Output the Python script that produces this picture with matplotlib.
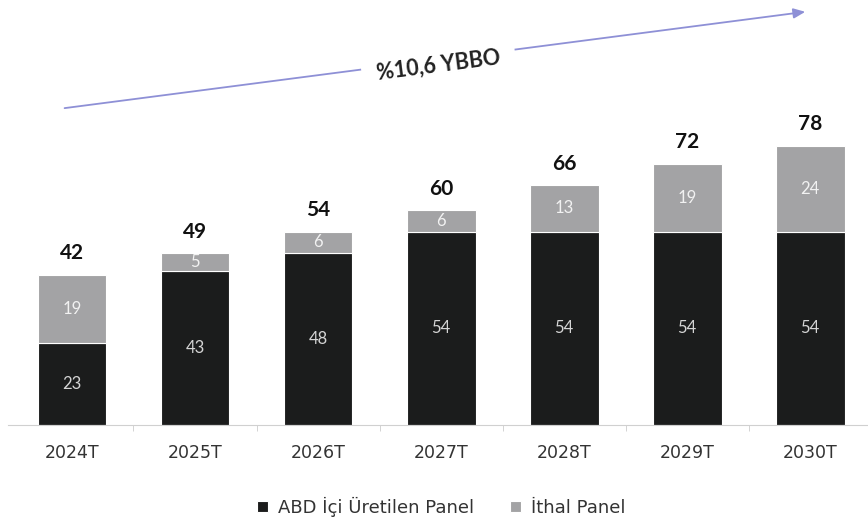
import matplotlib.pyplot as plt
import numpy as np

# Panel supply by source, forecast years
years = ['2024T', '2025T', '2026T', '2027T', '2028T', '2029T', '2030T']
domestic = [23, 43, 48, 54, 54, 54, 54]
imported = [19, 5, 6, 6, 13, 19, 24]
totals = [42, 49, 54, 60, 66, 72, 78]
cagr_text = '%10,6 YBBO'

dark = '#1b1c1c'
grey = '#a3a3a5'

plt.rcParams['font.family'] = ['Lato', 'DejaVu Sans']

fig = plt.figure(figsize=(8.68, 5.27), dpi=100)
ax = fig.add_axes([8 / 868, 102 / 527, 860 / 868, 425 / 527])

x = np.arange(len(years))
w = 0.56
ax.bar(x, domestic, w, color=dark, edgecolor='white', linewidth=0.8, label='ABD İçi Üretilen Panel')
ax.bar(x, imported, w, bottom=domestic, color=grey, edgecolor='white', linewidth=0.8, label='İthal Panel')

for i in range(len(years)):
    ax.text(x[i], domestic[i] / 2, str(domestic[i]), ha='center', va='center',
            color='#d4d4d4', fontsize=12)
    ax.text(x[i], domestic[i] + imported[i] / 2, str(imported[i]), ha='center', va='center',
            color='#f2f2f2', fontsize=12)
    ax.text(x[i], domestic[i] + imported[i] + 4.3, str(totals[i]), ha='center', va='baseline',
            color='#111111', fontsize=15, fontweight='bold')

# growth arrow across the top
ax.annotate('', xy=(5.96, 115.4), xytext=(-0.06, 88.5),
            arrowprops=dict(arrowstyle='-|>,head_length=0.7,head_width=0.3', color='#8e90d6',
                            lw=1.3, shrinkA=0, shrinkB=0))
ax.text(2.98, 100.4, cagr_text, ha='center', va='center', rotation=7.4,
        fontsize=15.5, fontweight='bold', color='#222222',
        bbox=dict(boxstyle='square,pad=0.7', facecolor='white', edgecolor='none'))

ax.set_xlim(-0.52, 6.47)
ax.set_ylim(0, 118.7)
ax.set_xticks(x)
ax.set_xticklabels(years, fontsize=12.5, color='#333333', family='DejaVu Sans')
ax.set_xticks(x[:-1] + 0.5, minor=True)
ax.tick_params(axis='x', which='major', length=0, pad=14)
ax.tick_params(axis='x', which='minor', length=4, color='#cccccc')
ax.set_yticks([])
for s in ['top', 'right', 'left']:
    ax.spines[s].set_visible(False)
ax.spines['bottom'].set_color('#d0d0d0')

fig.legend(loc='center', bbox_to_anchor=(441 / 868, 1 - 507 / 527), ncol=2, frameon=False,
           prop={'family': 'DejaVu Sans', 'size': 13}, handlelength=0.6, handleheight=0.6,
           columnspacing=2.0, handletextpad=0.55, labelcolor='#333333')

fig.savefig('out.png', dpi=100)
